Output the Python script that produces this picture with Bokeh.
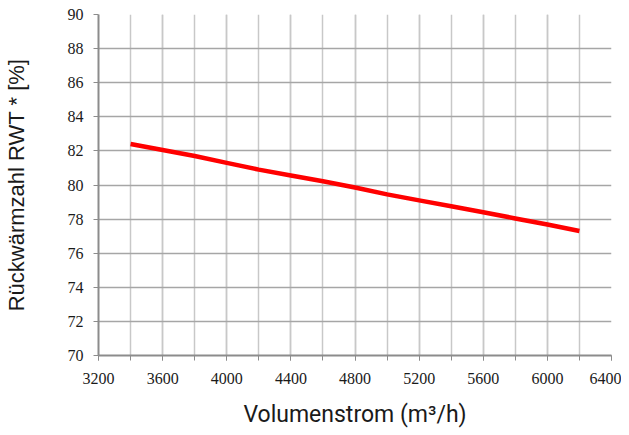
from bokeh.plotting import figure
from bokeh.models import FixedTicker
from bokeh.embed import file_html
from bokeh.resources import INLINE

# Data
volumenstrom = [3400, 3600, 3800, 4000, 4200, 4400, 4600, 4800, 5000, 5200, 5400, 5600, 5800, 6000, 6200]
rwt = [82.4, 82.05, 81.7, 81.3, 80.9, 80.56, 80.22, 79.85, 79.45, 79.1, 78.75, 78.4, 78.04, 77.68, 77.3]

x_major = [3200, 3600, 4000, 4400, 4800, 5200, 5600, 6000, 6400]
x_minor = [3200, 3400, 3600, 3800, 4000, 4200, 4400, 4600, 4800, 5000, 5200, 5400, 5600, 5800, 6000, 6200, 6400]
y_ticks = [70, 72, 74, 76, 78, 80, 82, 84, 86, 88, 90]

p = figure(frame_width=513, frame_height=341, x_range=(3200, 6400), y_range=(70, 90),
           output_backend="svg", toolbar_location=None,
           min_border_left=97, min_border_right=10, min_border_top=14, min_border_bottom=70)
p.outline_line_color = None
p.background_fill_color = "white"
p.border_fill_color = "white"

p.xaxis.ticker = FixedTicker(ticks=x_major, minor_ticks=x_minor)
p.yaxis.ticker = FixedTicker(ticks=y_ticks, minor_ticks=[])

axis_col = "#8c8c8c"
for ax in (p.xaxis[0], p.yaxis[0]):
    ax.axis_line_color = axis_col
    ax.axis_line_width = 2
    ax.major_tick_line_color = axis_col
    ax.minor_tick_line_color = axis_col
    ax.major_tick_in = 0
    ax.major_tick_out = 5
    ax.minor_tick_in = 0
    ax.minor_tick_out = 5
    ax.major_label_text_font = "Liberation Sans Narrow"
    ax.major_label_text_font_size = "16px"
    ax.major_label_text_color = "#1a1a1a"
    ax.axis_label_text_font_style = "normal"
    ax.axis_label_text_color = "#1a1a1a"

p.yaxis.minor_tick_line_color = None
p.xaxis.major_label_standoff = 12
p.yaxis.major_label_standoff = 10

p.xaxis.axis_label = "Volumenstrom (m³/h)"
p.xaxis.axis_label_text_font = "Roboto"
p.xaxis.axis_label_text_font_size = "23px"
p.xaxis.axis_label_standoff = 14

p.yaxis.axis_label = "Rückwärmzahl RWT * [%]"
p.yaxis.axis_label_text_font = "Liberation Sans"
p.yaxis.axis_label_text_font_size = "22px"
p.yaxis.axis_label_standoff = 36

p.xgrid.grid_line_color = "#c8c8c8"
p.xgrid.grid_line_width = 1.5
p.xgrid.minor_grid_line_color = "#c8c8c8"
p.xgrid.minor_grid_line_width = 1.5
p.ygrid.grid_line_color = "#a6a6a6"
p.ygrid.grid_line_width = 1.5

p.line(volumenstrom, rwt, line_color="#ff0000", line_width=4.5)

open("out.html", "w").write(file_html(p, INLINE))
